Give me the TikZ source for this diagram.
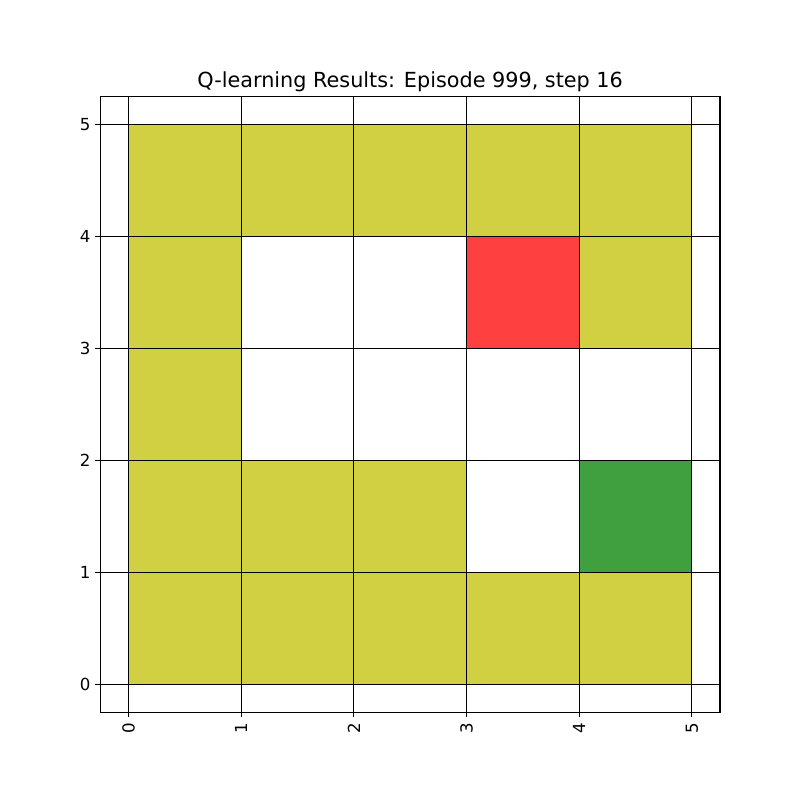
\documentclass[tikz,border=0pt]{standalone}
\usepackage{fontspec}
\setmainfont{DejaVu Sans}
\definecolor{cyel}{HTML}{D1D042}
\definecolor{cred}{HTML}{FF4040}
\definecolor{cgrn}{HTML}{40A040}
\begin{document}
\begin{tikzpicture}[x=0.01in,y=-0.01in,
  cellbox/.style={draw=black,line width=0.8bp},
  gridline/.style={draw=black,line width=0.75bp},
  ticklbl/.style={font=\fontsize{12}{14}\selectfont, inner sep=0pt},
  titlelbl/.style={font=\fontsize{15}{18}\selectfont, inner sep=0pt}]
\useasboundingbox (0,0) rectangle (800,800);
\fill[white] (0,0) rectangle (800,800);
\begin{scope}[shift={(128.5,684.5)}, x=1.126in, y=1.12in]
  % yellow cells
  \foreach \cx/\cy in {0/4,1/4,2/4,3/4,4/4, 0/3,4/3, 0/2, 0/1,1/1,2/1, 0/0,1/0,2/0,3/0,4/0}
    \fill[cyel] (\cx,\cy) rectangle ++(1,1);
  \fill[cred] (3,3) rectangle ++(1,1);
  \fill[cgrn] (4,1) rectangle ++(1,1);
  % grid lines
  \foreach \i in {0,...,5} {
    \draw[gridline] (\i,-0.25) -- (\i,5.25);
    \draw[gridline] (-0.25,\i) -- (5.25,\i);
  }
  % axes frame
  \draw[gridline] (-0.25,-0.25) rectangle (5.25,5.25);
  % ticks and labels
  \foreach \i in {0,...,5} {
    \draw[line width=0.75bp] (\i,-0.25) -- ++(0,-3.5bp);
    \draw[line width=0.75bp] (-0.25,\i) -- ++(-3.5bp,0);
    \node[ticklbl, rotate=90, anchor=east] (xl\i) at ([yshift=-7bp]\i,-0.25) {\i};
    \node[ticklbl, anchor=east] (yl\i) at ([xshift=-7bp]-0.25,\i) {\i};
  }
  \node[titlelbl, anchor=base] (title) at ([yshift=6bp]2.5,5.25) {Q-learning Results: Episode 999, step 16};
\end{scope}
\end{tikzpicture}
\end{document}
